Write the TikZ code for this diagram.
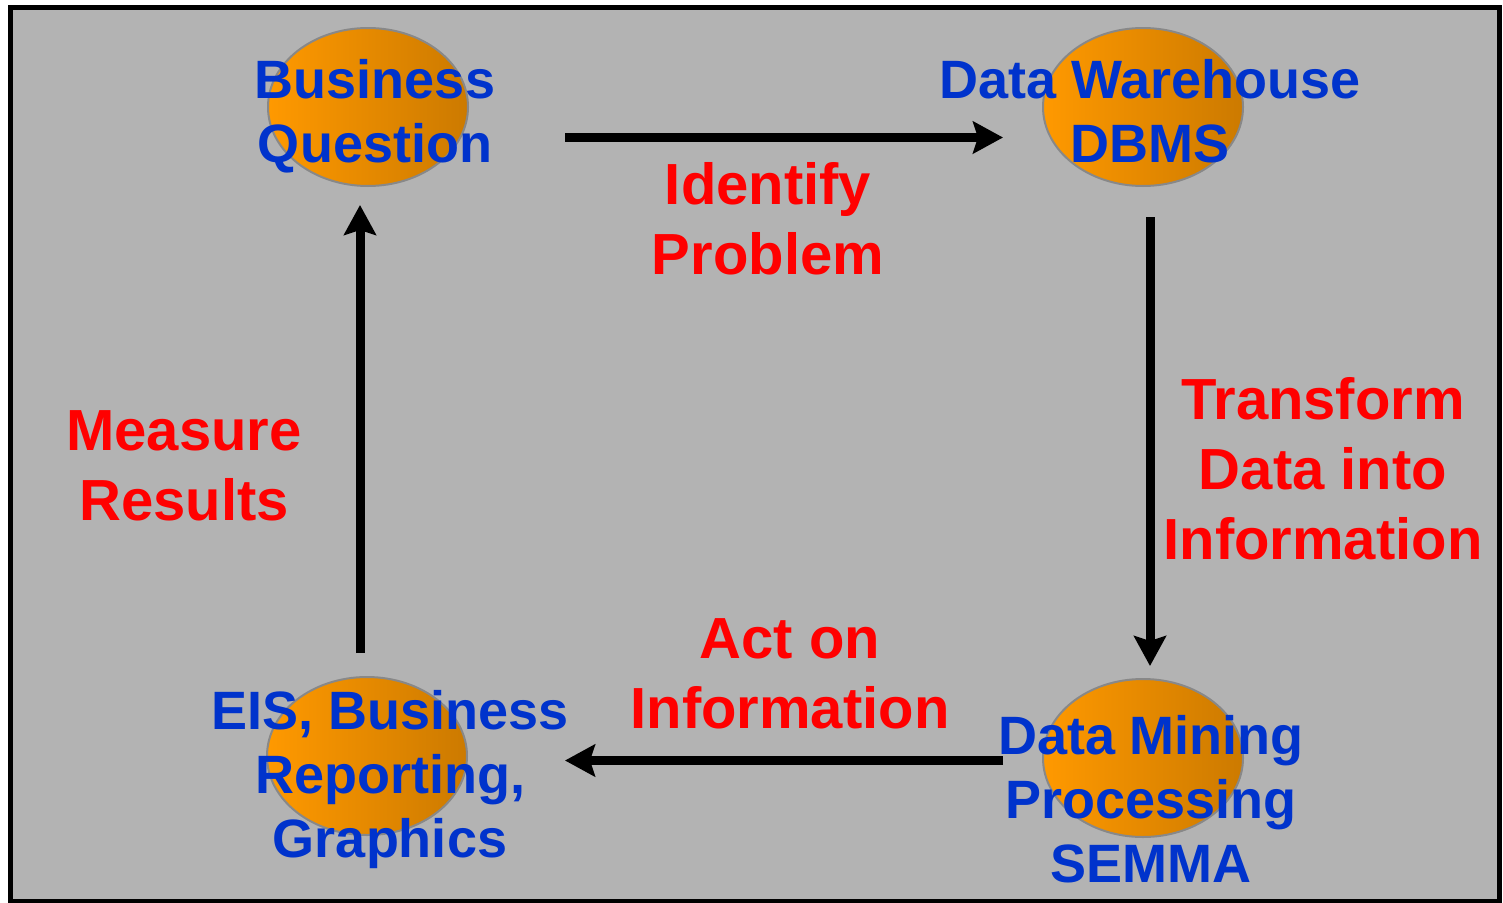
\documentclass[tikz,border=0pt]{standalone}
\usepackage{fontspec}
\setmainfont{Liberation Sans}
\usetikzlibrary{arrows.meta,shapes.geometric}
\definecolor{bgray}{HTML}{B3B3B3}
\definecolor{orangeL}{HTML}{FF9900}
\definecolor{orangeR}{HTML}{CC7A00}
\definecolor{ellborder}{HTML}{888888}
\definecolor{txtblue}{HTML}{0033CC}
\definecolor{txtred}{HTML}{FF0000}
\tikzset{
  ell/.style={ellipse, minimum width=200pt, minimum height=158pt, inner sep=0pt,
    draw=ellborder, line width=2pt, shading=axis, left color=orangeL, right color=orangeR, shading angle=90},
  bluetxt/.style={align=center, inner sep=0pt, anchor=base, text=txtblue,
    font=\bfseries\fontsize{54}{64}\selectfont},
  redtxt/.style={align=center, inner sep=0pt, anchor=base, text=txtred,
    font=\bfseries\fontsize{58}{70}\selectfont},
  flow/.style={line width=9pt, -{Stealth[length=30pt,width=32pt,inset=5pt]}}
}
\begin{document}
\begin{tikzpicture}[x=1pt,y=-1pt]
\useasboundingbox (0,0) rectangle (1503,902);
\draw[line width=5pt, fill=bgray] (10.5,7) rectangle (1499.5,901.5);
% ellipses
\node[ell] (bq) at (368,107) {};
\node[ell] (dw) at (1143,107) {};
\node[ell] (dm) at (1143,758) {};
\node[ell] (eis) at (367,756) {};
% connector end points
\coordinate (a1s) at (565,137.5);
\coordinate (a1e) at (1003,137.5);
\coordinate (a2s) at (1150,217);
\coordinate (a2e) at (1150,666);
\coordinate (a3s) at (1003,760.5);
\coordinate (a3e) at (565,760.5);
\coordinate (a4s) at (360,653);
\coordinate (a4e) at (360,205);
\draw[flow] (a1s) -- (a1e);
\draw[flow] (a2s) -- (a2e);
\draw[flow] (a3s) -- (a3e);
\draw[flow] (a4s) -- (a4e);
% blue labels (anchor = baseline of last line)
\node[bluetxt] (tbq) at (375,162) {Business\\Question};
\node[bluetxt] (tdw) at (1150,162) {Data Warehouse\\DBMS};
\node[bluetxt] (tdm) at (1151,882) {Data Mining\\Processing\\SEMMA};
\node[bluetxt] (teis) at (390,857) {EIS, Business\\Reporting,\\Graphics};
% red labels
\node[redtxt] (lid) at (768,274) {Identify\\Problem};
\node[redtxt] (ltr) at (1323,559) {Transform\\Data into\\Information};
\node[redtxt] (lme) at (184,520) {Measure\\Results};
\node[redtxt] (lac) at (790,728) {Act on\\Information};
\end{tikzpicture}
\end{document}
